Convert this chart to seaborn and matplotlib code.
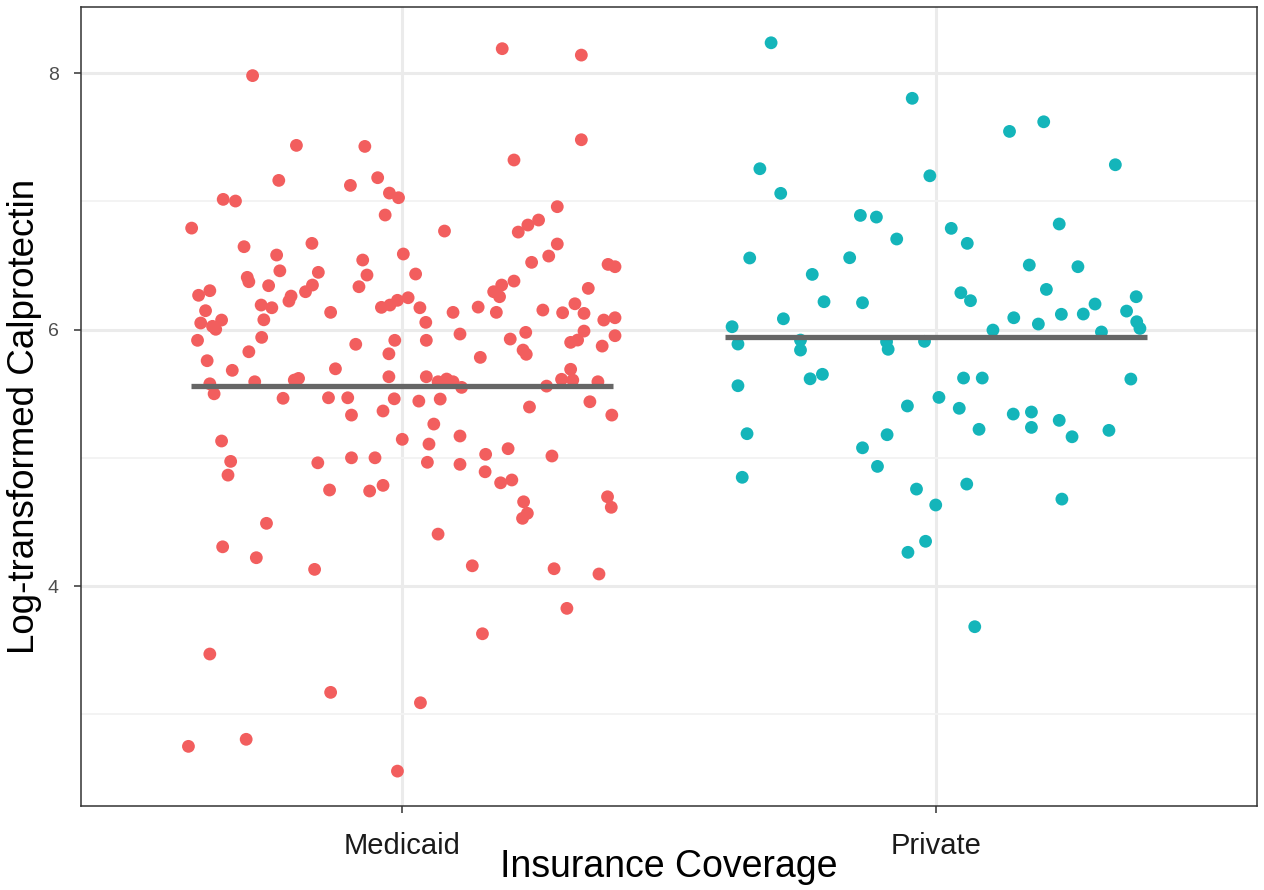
import numpy as np
import pandas as pd
import seaborn as sns
import matplotlib.pyplot as plt

# Группы и значения средних (горизонтальные линии)
groups = ['Medicaid', 'Private']
group_means = [5.556, 5.945]

# Medicaid: значения и горизонтальный сдвиг (jitter) каждой точки
medicaid_y = [8.19, 8.14, 7.98, 7.48, 7.436, 7.428, 7.322, 7.163, 7.184, 7.124,
              7.064, 7.028, 7.015, 7.002, 6.958, 6.893, 6.854, 6.815, 6.760, 6.768,
              6.791, 6.646, 6.672, 6.667, 6.573, 6.589, 6.581, 6.542, 6.524, 6.508,
              6.490, 6.425, 6.458, 6.446, 6.433, 6.407, 6.373, 6.347, 6.321, 6.267,
              6.303, 6.261, 6.222, 6.295, 6.342, 6.334, 6.378, 6.347, 6.295, 6.256,
              6.147, 6.134, 6.173, 6.191, 6.228, 6.248, 6.191, 6.170, 6.170, 6.134,
              6.175, 6.134, 6.152, 6.131, 6.201, 6.126, 6.074, 6.051, 6.025, 6.002,
              6.076, 6.056, 6.074, 6.092, 5.939, 5.916, 5.885, 5.916, 5.827, 5.811,
              5.988, 5.918, 5.900, 5.978, 5.926, 5.952, 5.965, 5.916, 5.871, 5.840,
              5.807, 5.783, 5.757, 5.682, 5.694, 5.632, 5.577, 5.499, 5.593, 5.606,
              5.619, 5.464, 5.468, 5.468, 5.333, 5.365, 5.460, 5.632, 5.593, 5.614,
              5.593, 5.549, 5.559, 5.612, 5.690, 5.606, 5.593, 5.442, 5.458, 5.396,
              5.437, 5.333, 5.263, 5.131, 4.972, 4.865, 4.489, 4.306, 4.221, 4.130,
              4.961, 5.000, 5.000, 4.749, 4.741, 4.785, 5.144, 5.107, 5.170, 4.965,
              4.949, 5.027, 5.071, 4.891, 5.014, 4.805, 4.827, 4.657, 4.567, 4.528,
              4.696, 4.614, 4.405, 4.158, 4.135, 4.094, 3.826, 3.470, 3.171, 2.750,
              2.805, 2.557, 3.628, 3.090]
medicaid_jitter = [0.188, 0.336, -0.279, 0.336, -0.197, -0.069, 0.210, -0.230, -0.045, -0.096,
                   -0.023, -0.006, -0.334, -0.311, 0.291, -0.031, 0.256, 0.236, 0.218, 0.080,
                   -0.393, -0.295, -0.168, 0.291, 0.275, 0.003, -0.234, -0.073, 0.243, 0.386,
                   0.399, -0.065, -0.228, -0.156, 0.026, -0.289, -0.286, -0.167, 0.349, -0.380,
                   -0.359, -0.207, -0.211, -0.180, -0.249, -0.080, 0.210, 0.187, 0.172, 0.183,
                   -0.367, -0.133, -0.038, -0.022, -0.008, 0.012, -0.263, -0.243, 0.034, 0.096,
                   0.143, 0.177, 0.264, 0.301, 0.324, 0.341, -0.337, -0.376, -0.354, -0.348,
                   -0.258, 0.045, 0.378, 0.399, -0.262, -0.382, -0.086, -0.013, -0.286, -0.024,
                   0.341, 0.329, 0.316, 0.232, 0.203, 0.399, 0.109, 0.046, 0.375, 0.227,
                   0.233, 0.147, -0.364, -0.317, -0.124, -0.024, -0.359, -0.351, -0.275, -0.201,
                   -0.193, -0.222, -0.137, -0.101, -0.094, -0.035, -0.014, 0.046, 0.068, 0.084,
                   0.096, 0.112, 0.271, 0.299, 0.316, 0.320, 0.367, 0.032, 0.072, 0.239,
                   0.352, 0.393, 0.060, -0.337, -0.320, -0.325, -0.253, -0.335, -0.272, -0.163,
                   -0.157, -0.094, -0.050, -0.135, -0.060, -0.035, 0.001, 0.051, 0.109, 0.048,
                   0.109, 0.157, 0.199, 0.156, 0.281, 0.185, 0.206, 0.228, 0.235, 0.226,
                   0.385, 0.392, 0.068, 0.132, 0.285, 0.369, 0.309, -0.359, -0.133, -0.399,
                   -0.291, -0.008, 0.151, 0.035]

# Private
private_y = [8.236, 7.803, 7.545, 7.620, 7.285, 7.254, 7.199, 7.062, 6.890, 6.877,
             6.789, 6.823, 6.706, 6.672, 6.558, 6.560, 6.503, 6.490, 6.430, 6.287,
             6.225, 6.313, 6.199, 6.256, 6.217, 6.209, 6.144, 6.061, 6.009, 6.084,
             6.022, 6.092, 6.043, 6.119, 6.121, 5.996, 5.981, 5.887, 5.918, 5.840,
             5.905, 5.846, 5.908, 5.616, 5.651, 5.562, 5.622, 5.622, 5.614, 5.404,
             5.471, 5.386, 5.222, 5.341, 5.357, 5.237, 5.292, 5.164, 5.214, 5.188,
             5.180, 5.078, 4.933, 4.848, 4.756, 4.632, 4.795, 4.678, 4.349, 4.263,
             3.683]
private_jitter = [-0.309, -0.045, 0.137, 0.201, 0.335, -0.330, -0.012, -0.291, -0.142, -0.112,
                  0.028, 0.230, -0.074, 0.058, -0.349, -0.162, 0.174, 0.265, -0.232, 0.046,
                  0.064, 0.206, 0.297, 0.374, -0.210, -0.138, 0.356, 0.375, 0.381, -0.286,
                  -0.382, 0.145, 0.191, 0.234, 0.275, 0.106, 0.309, -0.371, -0.254, -0.254,
                  -0.093, -0.090, -0.022, -0.236, -0.213, -0.371, 0.051, 0.086, 0.364, -0.054,
                  0.005, 0.043, 0.080, 0.144, 0.178, 0.178, 0.230, 0.254, 0.323, -0.354,
                  -0.092, -0.138, -0.110, -0.363, -0.037, -0.001, 0.057, 0.235, -0.020, -0.053,
                  0.072]

df = pd.DataFrame({
    'insurance': ['Medicaid'] * len(medicaid_y) + ['Private'] * len(private_y),
    'calpro': medicaid_y + private_y,
    'jitter': medicaid_jitter + private_jitter,
})
df['xpos'] = df['insurance'].map({g: i for i, g in enumerate(groups)}) + df['jitter']

sns.set_theme(style='white')
plt.rcParams['font.family'] = ['Liberation Sans', 'DejaVu Sans']

W, H = 1264, 890
fig = plt.figure(figsize=(W / 100, H / 100), dpi=100)
ax = fig.add_axes([81 / W, 1 - 806 / H, 1176 / W, 799 / H])

sns.scatterplot(data=df, x='xpos', y='calpro', hue='insurance',
                palette=['#F25E5E', '#14B5BA'], s=85, linewidth=0,
                legend=False, ax=ax, zorder=3)

# Горизонтальные линии средних
pos = np.arange(len(groups))
ax.hlines(group_means, pos - 0.395, pos + 0.395, color='#666666', lw=3.8, zorder=4)

ax.set_xlim(-0.6, 1.6)
ax.set_ylim(2.285, 8.515)
ax.set_xticks(pos)
ax.set_xticklabels(groups)
ax.set_yticks([4, 6, 8])
ax.set_yticks([3, 5, 7], minor=True)

ax.grid(True, which='major', color='#EBEBEB', lw=2.2, zorder=0)
ax.grid(True, which='minor', axis='y', color='#F3F3F3', lw=1.4, zorder=0)
ax.set_axisbelow(True)

for s in ax.spines.values():
    s.set_color('#333333')
    s.set_linewidth(1.1)

ax.tick_params(axis='both', which='major', length=5, width=1.1, color='#333333',
               direction='out', bottom=True, left=True)
ax.tick_params(axis='both', which='minor', length=0)
ax.tick_params(axis='x', labelsize=21, labelcolor='#1A1A1A', pad=14)
ax.tick_params(axis='y', labelsize=14, labelcolor='#4D4D4D', pad=11)

ax.set_xlabel('Insurance Coverage', fontsize=27, color='black')
ax.set_ylabel('Log-transformed Calprotectin', fontsize=26.5, color='black')
ax.xaxis.set_label_coords(0.5, -0.054)
ax.yaxis.set_label_coords(-0.033, 0.487)

fig.savefig('out.png', dpi=100)
